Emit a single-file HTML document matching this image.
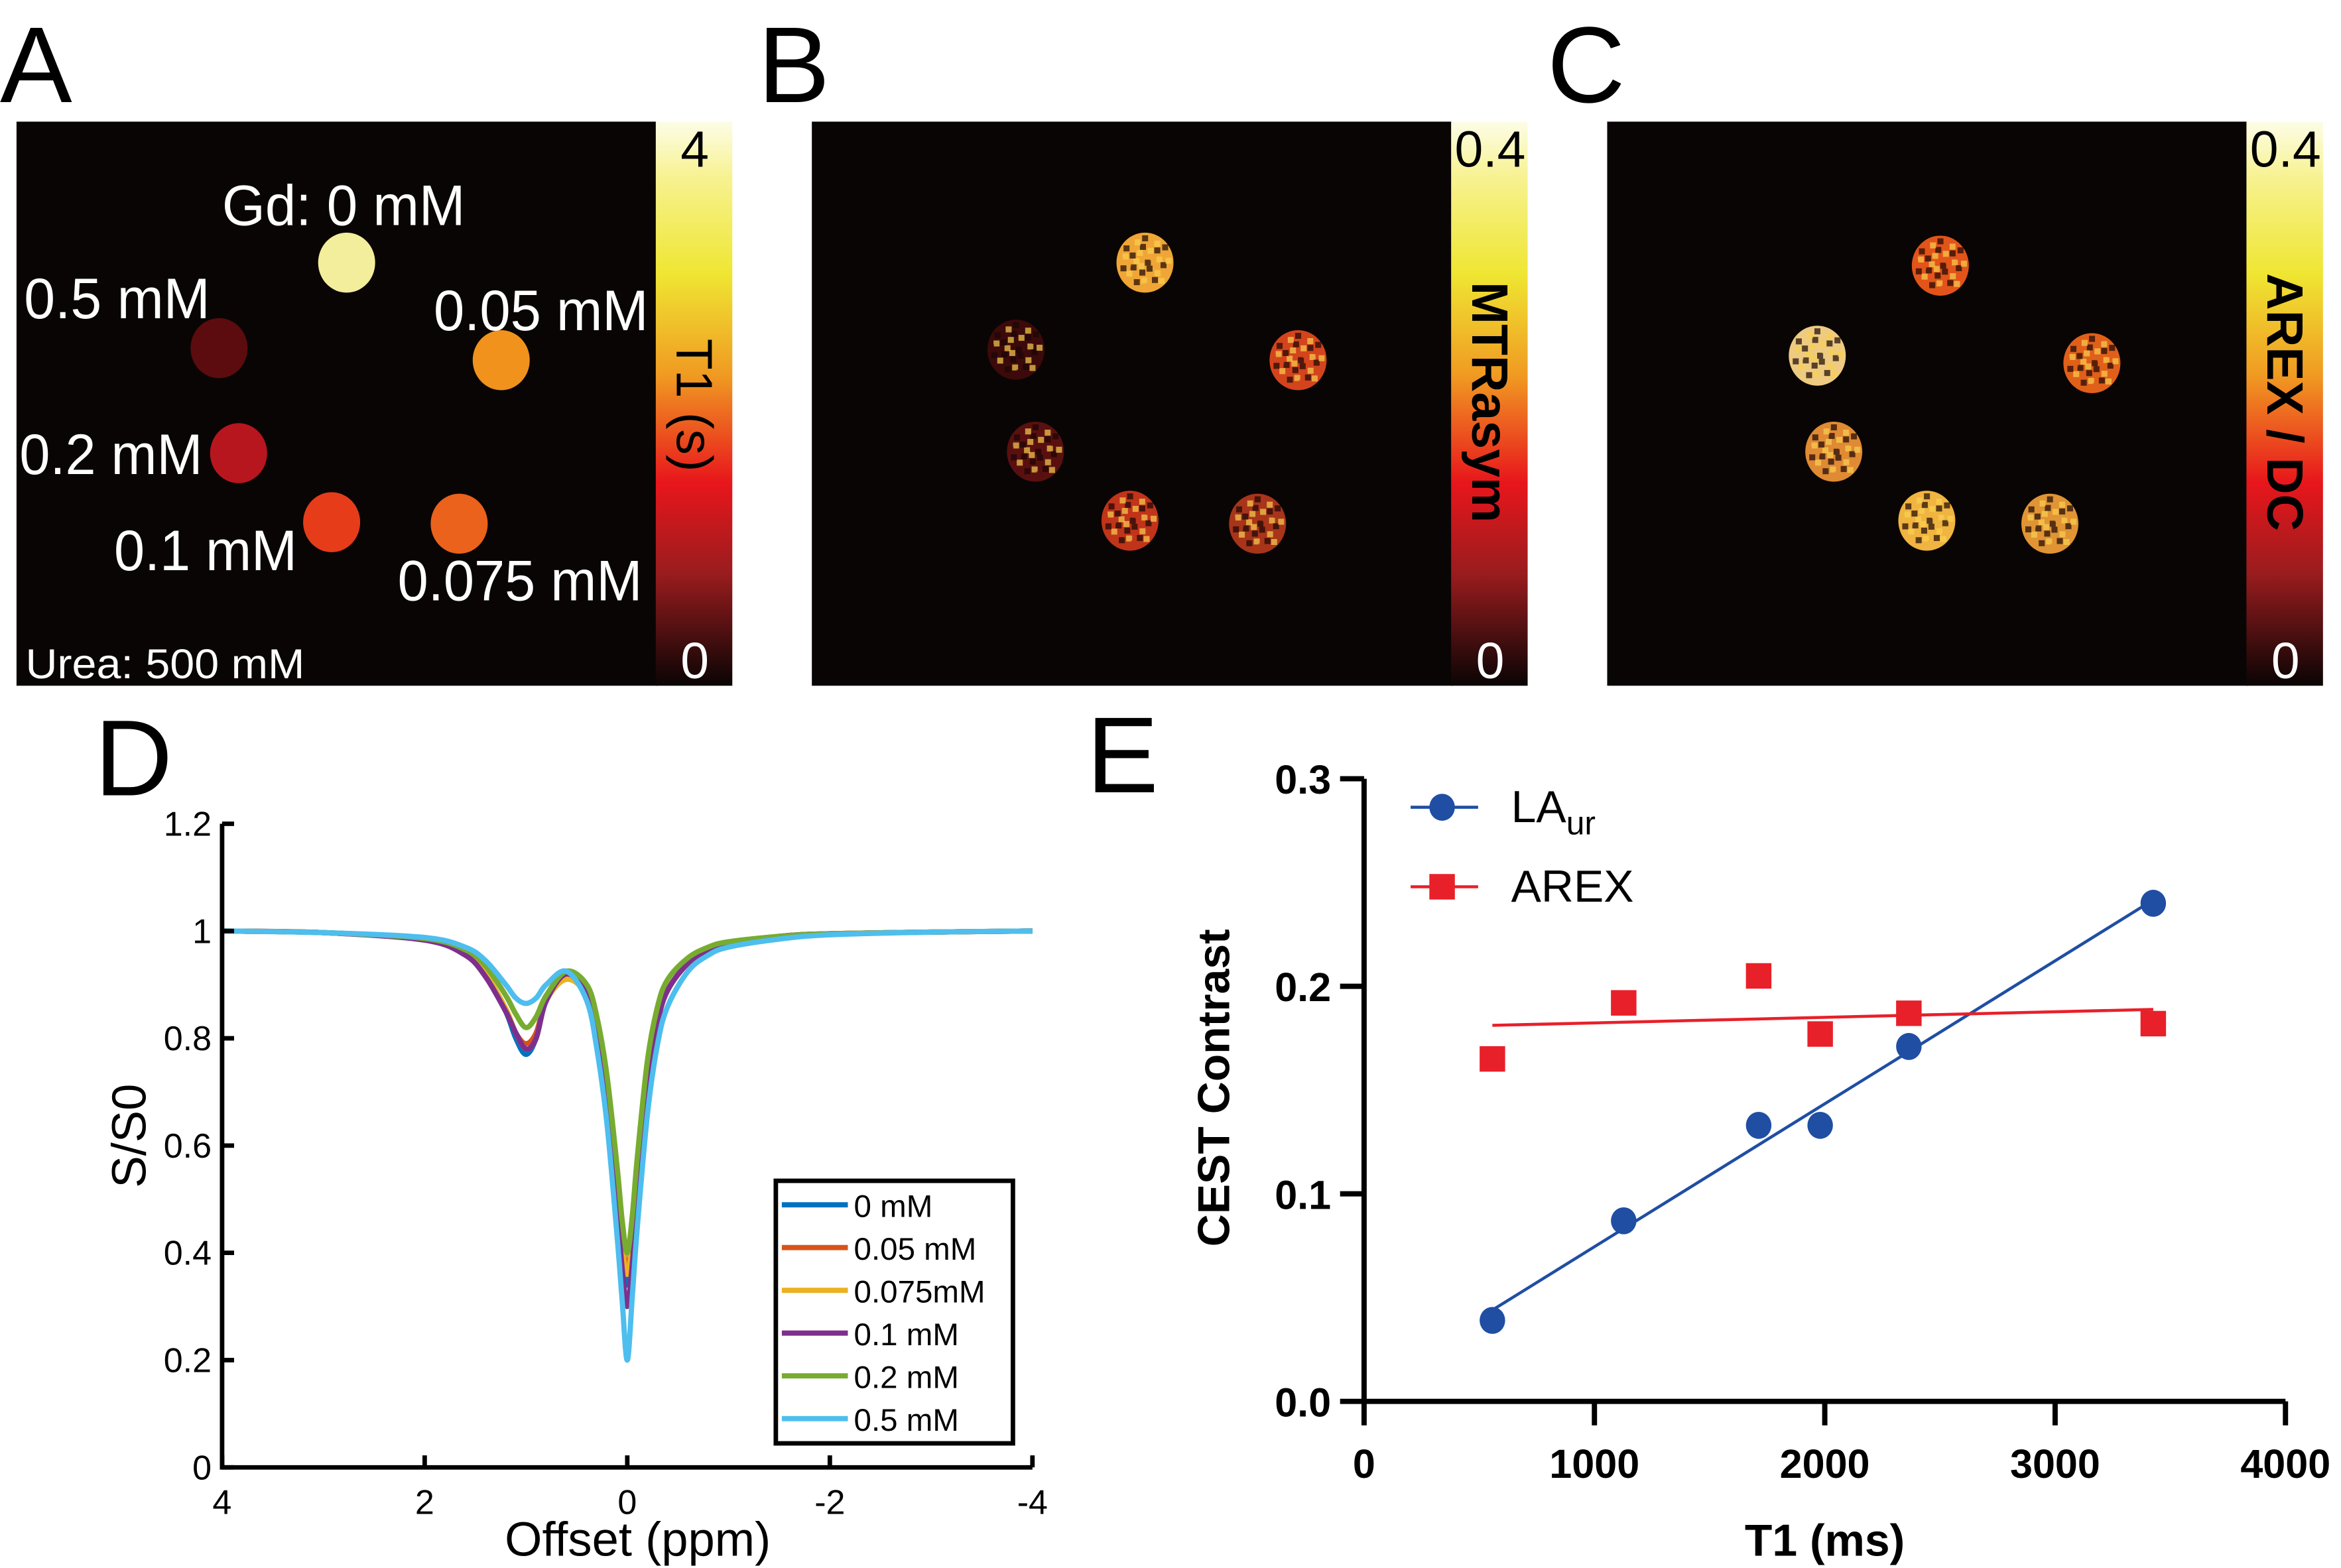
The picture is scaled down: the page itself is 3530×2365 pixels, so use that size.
<!DOCTYPE html>
<html><head><meta charset="utf-8"><style>
html,body{margin:0;padding:0;background:#fff}
svg{display:block}
text{font-family:"Liberation Sans",sans-serif}
</style></head><body>
<svg id="fig" xmlns="http://www.w3.org/2000/svg" width="3530" height="2365" viewBox="0 0 1560 1045">
<defs>
<linearGradient id="hot" x1="0" y1="0" x2="0" y2="1">
<stop offset="0" stop-color="#fdfde6"/><stop offset="0.1" stop-color="#f7f290"/><stop offset="0.27" stop-color="#efe632"/>
<stop offset="0.45" stop-color="#f09a22"/><stop offset="0.64" stop-color="#e8161c"/><stop offset="0.8" stop-color="#9a1c1e"/><stop offset="1" stop-color="#0a0404"/>
</linearGradient>
</defs>
<g font-size="72">
<text x="0" y="68">A</text>
<text x="505" y="68">B</text>
<text x="1031" y="68">C</text>
<text x="63" y="530">D</text>
<text x="724" y="528">E</text>
</g>
<g id="maps"></g>
<g id="pD"></g>
<g id="pE"></g>
</svg>
<script>
const NS="http://www.w3.org/2000/svg";
function mk(parent,tag,attrs,txt){const e=document.createElementNS(NS,tag);for(const k in attrs)e.setAttribute(k,attrs[k]);if(txt!==undefined)e.textContent=txt;parent.appendChild(e);return e;}

/* ---------- Phantom maps ---------- */
const maps=document.getElementById('maps');
const panelX=[11,541,1071];
const phantomPos=[[[231,175],[146,232],[334,240],[159,302],[221,348],[306,349]],
 [[763,175],[677,233],[865,240],[690,301],[753,347],[838,349]],
 [[1293,177],[1211,237],[1394,242],[1222,301],[1284,347],[1366,349]]];
const phantomColors=[["#f2ee9c","#5c0c0e","#f0921c","#b8161e","#e63c1a","#ea621c"],
 ["#f0a636","#3c0a0a","#d4441c","#5a1010","#c0341a","#a8341a"],
 ["#e2541a","#eecb80","#e0601a","#e08a34","#f0b440","#e09434"]];
const cbTop=["4","0.4","0.4"];
const cbTitle=["T1 (s)","MTRasym","AREX / DC"];
for(let p=0;p<3;p++){
  const g=mk(maps,'g',{});
  
  
  const bg=mk(g,'rect',{x:panelX[p],y:81,width:427,height:376,fill:'#0a0505'});
  
  
  for(let i=0;i<6;i++){
    const c=mk(g,'ellipse',{cx:phantomPos[p][i][0],cy:phantomPos[p][i][1],rx:19,ry:20,fill:phantomColors[p][i]});
    
    
    // speckle texture
    if(p>0){for(let k=0;k<40;k++){const a=(k*2.39996)%(2*Math.PI),r=17*Math.sqrt((k+0.5)/40);
      const s=mk(g,'rect',{x:phantomPos[p][i][0]+r*Math.cos(a)-2,y:phantomPos[p][i][1]+r*Math.sin(a)-2,width:4,height:4,fill:k%3==0?'#1a0505':(k%3==1?'#f8d050':phantomColors[p][i]),opacity:0.7});}}
  }
  const cb=mk(g,'rect',{x:panelX[p]+426,y:81,width:51,height:376,fill:'url(#hot)'});
  
  
  const cx=panelX[p]+452;
  const t1=mk(g,'text',{x:cx,y:111,'font-size':34,'text-anchor':'middle',fill:'#000'},cbTop[p]);
  
  
  const t0=mk(g,'text',{x:cx,y:452,'font-size':34,'text-anchor':'middle',fill:'#fff'},"0");
  
  
  const cy=[270,268,268][p];
  const tt=mk(g,'text',{x:0,y:0,'font-size':34,'font-weight':p==0?'normal':'bold','text-anchor':'middle',fill:'#000',transform:`translate(${cx-12},${cy}) rotate(90)`},cbTitle[p]);
  
  
}
const aLabels=[["Gd: 0 mM",148,150,162],["0.5 mM",16,212,124],["0.05 mM",289,220,143],["0.2 mM",13,316,122],["0.1 mM",76,380,122],["0.075 mM",265,400,163]];
aLabels.forEach(l=>{const t=mk(maps,'text',{x:l[1],y:l[2],'font-size':38,fill:'#fff',textLength:l[3],lengthAdjust:'spacingAndGlyphs'},l[0]);
  
  });
const ur=mk(maps,'text',{x:17,y:452,'font-size':28,fill:'#fff',textLength:186,lengthAdjust:'spacingAndGlyphs'},"Urea: 500 mM");



/* ---------- Panel D: Z-spectra ---------- */
const offsets=[4,3,2,1.6,1.4,1.2,1.1,1.0,0.9,0.8,0.6,0.4,0.3,0.2,0.1,0.05,0,-0.05,-0.1,-0.2,-0.3,-0.4,-0.6,-0.8,-1,-1.5,-2,-3,-4];
const seriesNames=["0 mM","0.05 mM","0.075mM","0.1 mM","0.2 mM","0.5 mM"];
const seriesColors=["#0072bd","#d95319","#edb120","#7e2f8e","#77ac30","#4dbeee"];
const s0 =[1,0.997,0.985,0.96,0.92,0.85,0.80,0.77,0.80,0.87,0.925,0.88,0.80,0.68,0.50,0.40,0.34,0.41,0.52,0.72,0.83,0.89,0.94,0.965,0.975,0.99,0.995,0.998,1];
const s05=[1,0.997,0.985,0.96,0.92,0.855,0.81,0.79,0.81,0.87,0.915,0.88,0.80,0.68,0.51,0.42,0.37,0.43,0.53,0.72,0.83,0.89,0.94,0.965,0.975,0.99,0.995,0.998,1];
const s075=[1,0.997,0.985,0.96,0.92,0.855,0.81,0.78,0.80,0.87,0.91,0.88,0.80,0.68,0.50,0.41,0.36,0.42,0.52,0.72,0.83,0.89,0.94,0.965,0.975,0.99,0.995,0.998,1];
const s01=[1,0.997,0.983,0.955,0.915,0.85,0.81,0.78,0.80,0.87,0.92,0.88,0.80,0.67,0.48,0.37,0.30,0.38,0.50,0.71,0.83,0.89,0.94,0.965,0.975,0.99,0.995,0.998,1];
const s02=[1,0.997,0.986,0.965,0.935,0.88,0.845,0.82,0.84,0.88,0.925,0.90,0.84,0.73,0.56,0.46,0.40,0.47,0.58,0.76,0.86,0.91,0.95,0.97,0.98,0.99,0.995,0.998,1];
const s5 =[1,0.997,0.988,0.97,0.945,0.90,0.875,0.865,0.875,0.90,0.925,0.87,0.78,0.64,0.43,0.31,0.20,0.32,0.45,0.66,0.79,0.86,0.925,0.955,0.97,0.985,0.993,0.998,1];
const seriesValues=[s0,s05,s075,s01,s02,s5];
const xTicksD=[4,2,0,-2,-4];
const xTickLabelsD=["4","2","0","-2","-4"];
const yTicksD=[0,0.2,0.4,0.6,0.8,1,1.2];
const yTickLabelsD=["0","0.2","0.4","0.6","0.8","1","1.2"];
(function(){
const g=document.getElementById('pD');
const X=v=>148+(4-v)/8*540, Y=v=>978-v/1.2*429;
function smooth(pts){let d=`M${pts[0][0]},${pts[0][1]}`;for(let i=0;i<pts.length-1;i++){const p0=pts[Math.max(i-1,0)],p1=pts[i],p2=pts[i+1],p3=pts[Math.min(i+2,pts.length-1)];
 d+=` C${p1[0]+(p2[0]-p0[0])/6},${p1[1]+(p2[1]-p0[1])/6} ${p2[0]-(p3[0]-p1[0])/6},${p2[1]-(p3[1]-p1[1])/6} ${p2[0]},${p2[1]}`;}return d;}
seriesValues.forEach((vals,si)=>{
  const pts=offsets.map((o,i)=>[X(o),Y(vals[i])]);
  const path=mk(g,'path',{d:smooth(pts),fill:'none',stroke:seriesColors[si],'stroke-width':3.5,'stroke-linejoin':'round'});
  
  
});
const ax=mk(g,'path',{d:`M${X(4)},${Y(1.2)} V${Y(0)} H${X(-4)}`,fill:'none',stroke:'#000','stroke-width':3});


yTicksD.forEach((v,i)=>{mk(g,'line',{x1:X(4),x2:X(4)+8,y1:Y(v),y2:Y(v),stroke:'#000','stroke-width':3});
 const t=mk(g,'text',{x:141,y:Y(v)+8,'font-size':23,'text-anchor':'end'},yTickLabelsD[i]);
 
 });
xTicksD.forEach((v,i)=>{mk(g,'line',{x1:X(v),x2:X(v),y1:Y(0),y2:Y(0)-8,stroke:'#000','stroke-width':3});
 const t=mk(g,'text',{x:X(v),y:1009,'font-size':23,'text-anchor':'middle'},xTickLabelsD[i]);
 
 });
const xt=mk(g,'text',{x:425,y:1037,'font-size':32,'text-anchor':'middle'},"Offset (ppm)");


const yt=mk(g,'text',{x:0,y:0,'font-size':32,'text-anchor':'middle',transform:'translate(97,757) rotate(-90)'},"S/S0");


const lb=mk(g,'rect',{x:517,y:787,width:158,height:175,fill:'#fff',stroke:'#000','stroke-width':3});


seriesNames.forEach((n,i)=>{const y=803+i*28.5;
 const l=mk(g,'line',{x1:521,x2:565,y1:y,y2:y,stroke:seriesColors[i],'stroke-width':3.5});
 
 
 const t=mk(g,'text',{x:569,y:y+8,'font-size':21},n);
 
 });
})();

/* ---------- Panel E: CEST contrast vs T1 ---------- */
const t1Values=[557,1127,1713,1980,2365,3426];
const laValues=[0.039,0.087,0.133,0.133,0.171,0.240];
const arexValues=[0.165,0.192,0.205,0.177,0.187,0.182];
const xTicksE=[0,1000,2000,3000,4000];
const yTicksE=[0,0.1,0.2,0.3];
const yTickLabelsE=["0.0","0.1","0.2","0.3"];
(function(){
const g=document.getElementById('pE');
const X=v=>909+v/4000*614, Y=v=>934-v/0.3*415;
function fit(xs,ys){const n=xs.length,mx=xs.reduce((a,b)=>a+b)/n,my=ys.reduce((a,b)=>a+b)/n;let sxy=0,sxx=0;xs.forEach((x,i)=>{sxy+=(x-mx)*(ys[i]-my);sxx+=(x-mx)**2;});const m=sxy/sxx;return [m,my-m*mx];}
const xmin=Math.min(...t1Values),xmax=Math.max(...t1Values);
[[laValues,'#1f4ea3','la-fit-line'],[arexValues,'#e8202a','arex-fit-line']].forEach(([ys,c,nm])=>{
 const [m,b]=fit(t1Values,ys);
 const l=mk(g,'line',{x1:X(xmin),y1:Y(m*xmin+b),x2:X(xmax),y2:Y(m*xmax+b),stroke:c,'stroke-width':2});
 
 });
t1Values.forEach((t,i)=>{
 const s=mk(g,'rect',{x:X(t)-8.5,y:Y(arexValues[i])-8.5,width:17,height:17,fill:'#e8202a'});
 
 
 const c=mk(g,'ellipse',{cx:X(t),cy:Y(laValues[i]),rx:8.5,ry:9,fill:'#1f4ea3'});
 
 });
const ax=mk(g,'path',{d:`M${X(0)},${Y(0.3)} V${Y(0)} H${X(4000)}`,fill:'none',stroke:'#000','stroke-width':3.5});


yTicksE.forEach((v,i)=>{mk(g,'line',{x1:X(0)-16,x2:X(0),y1:Y(v),y2:Y(v),stroke:'#000','stroke-width':3.5});
 const t=mk(g,'text',{x:887,y:Y(v)+10,'font-size':27,'font-weight':'bold','text-anchor':'end'},yTickLabelsE[i]);
 
 });
xTicksE.forEach(v=>{mk(g,'line',{x1:X(v),x2:X(v),y1:Y(0),y2:Y(0)+16,stroke:'#000','stroke-width':3.5});
 const t=mk(g,'text',{x:X(v),y:985,'font-size':27,'font-weight':'bold','text-anchor':'middle'},String(v));
 
 });
const xt=mk(g,'text',{x:1216,y:1037,'font-size':30,'font-weight':'bold','text-anchor':'middle'},"T1 (ms)");


const yt=mk(g,'text',{x:0,y:0,'font-size':30,'font-weight':'bold','text-anchor':'middle',transform:'translate(819,725) rotate(-90)'},"CEST Contrast");


mk(g,'line',{x1:940,x2:985,y1:538,y2:538,stroke:'#1f4ea3','stroke-width':2});
const lc=mk(g,'ellipse',{cx:961,cy:538,rx:8.5,ry:9,fill:'#1f4ea3'});


const lt=mk(g,'text',{x:1007,y:548,'font-size':30},"LA");


mk(lt,'tspan',{dy:8,'font-size':22},"ur");
mk(g,'line',{x1:940,x2:985,y1:591,y2:591,stroke:'#e8202a','stroke-width':2});
const ls=mk(g,'rect',{x:952.5,y:582.5,width:17,height:17,fill:'#e8202a'});


const at=mk(g,'text',{x:1007,y:601,'font-size':30},"AREX");


})();
</script>
</body></html>
